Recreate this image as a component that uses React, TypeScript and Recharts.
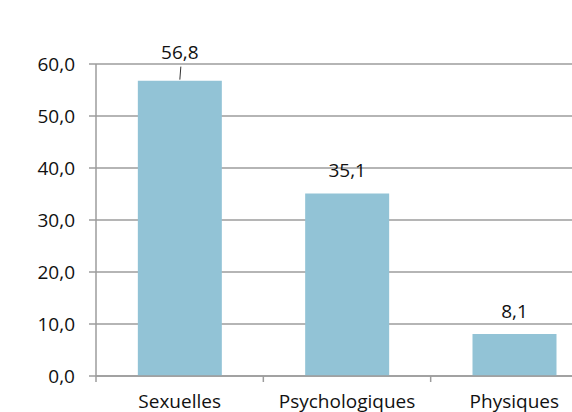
import React from 'react';
import { BarChart, Bar, XAxis, YAxis, CartesianGrid, LabelList } from 'recharts';

const categories = ['Sexuelles', 'Psychologiques', 'Physiques'];
const values = [56.8, 35.1, 8.1];
const yTicks = [0, 10, 20, 30, 40, 50, 60];

const chartData = categories.map((name, i) => ({ name, value: values[i] }));

const barColor = '#92C3D6';
const gridColor = '#9C9C9C';
const font = '"Open Sans", "Noto Sans", sans-serif';
const fontSize = 19;

const fmt = (v: number) => v.toFixed(1).replace('.', ',');

const XTick = (props: any) => {
  const { x, y, payload } = props;
  const left = x - (payload.offset || 0);
  return (
    <g>
      <line x1={left} x2={left} y1={y - 8} y2={y - 2} stroke={gridColor} strokeWidth={1.5} />
      <text x={x} y={y + 17} textAnchor="middle" dominantBaseline="central" fontSize={fontSize} fill="#111" fontFamily={font}>
        {payload.value}
      </text>
    </g>
  );
};

const ValueLabel = (props: any) => {
  const { x, y, width, value, index } = props;
  const cx = x + width / 2;
  // first label was dragged up in the original, with a leader line
  if (index === 0) {
    return (
      <g>
        <line x1={cx + 1} x2={cx} y1={y - 14} y2={y - 1} stroke="#333" />
        <text x={cx} y={y - 29} textAnchor="middle" dominantBaseline="central" fontSize={fontSize} fill="#111" fontFamily={font}>
          {fmt(value)}
        </text>
      </g>
    );
  }
  return (
    <text x={cx} y={y - 23} textAnchor="middle" dominantBaseline="central" fontSize={fontSize} fill="#111" fontFamily={font}>
      {fmt(value)}
    </text>
  );
};

const App = () => {
  return (
    <div style={{ position: 'fixed', left: 0, top: 0, width: 572, height: 412, overflow: 'hidden', background: '#fff' }}>
      <BarChart
        width={620}
        height={412}
        data={chartData}
        margin={{ top: 64, right: 22, left: 0, bottom: 0 }}
        barCategoryGap="25%"
      >
        <CartesianGrid vertical={false} stroke={gridColor} strokeWidth={1.5} />
        <XAxis
          dataKey="name"
          height={36}
          axisLine={{ stroke: gridColor, strokeWidth: 1.5 }}
          tickLine={false}
          tick={<XTick />}
          interval={0}
        />
        <YAxis
          width={96}
          domain={[0, 60]}
          ticks={yTicks}
          tickFormatter={fmt}
          axisLine={{ stroke: gridColor, strokeWidth: 1.5 }}
          tickLine={{ stroke: gridColor, strokeWidth: 1.5 }}
          tickSize={7}
          tickMargin={14}
          tick={{ fontSize, fill: '#111', fontFamily: font }}
        />
        <Bar dataKey="value" fill={barColor} isAnimationActive={false}>
          <LabelList dataKey="value" content={<ValueLabel />} />
        </Bar>
      </BarChart>
    </div>
  );
};

export default App;
